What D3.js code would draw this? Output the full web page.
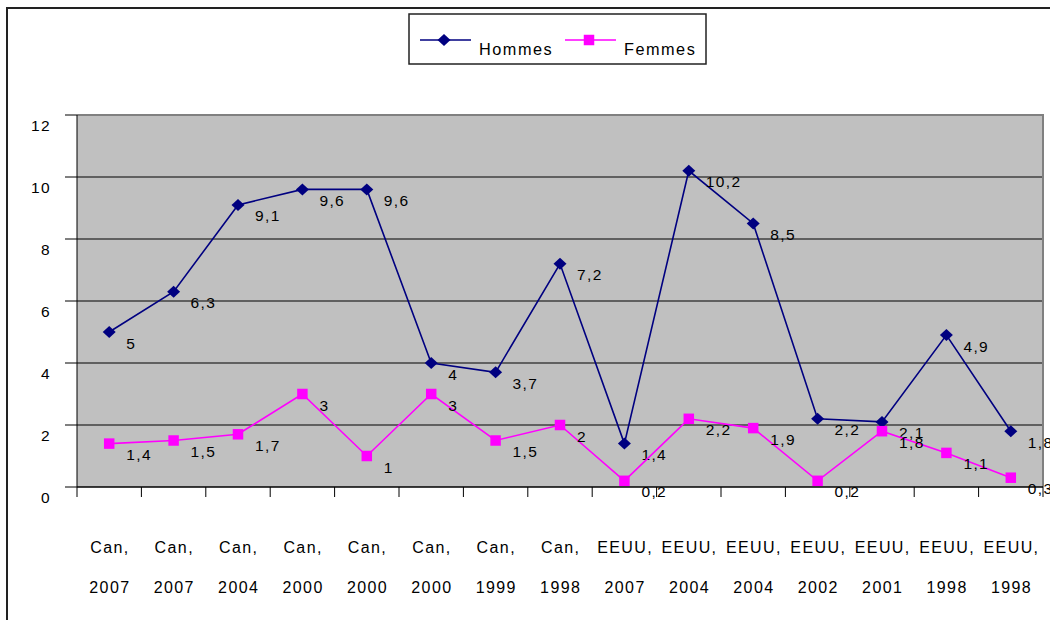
<!DOCTYPE html>
<html>
<head>
<meta charset="utf-8">
<script src="https://cdn.jsdelivr.net/npm/d3@7"></script>
<style>
  html, body { margin: 0; padding: 0; background: #fff; }
  svg { display: block; font-family: "Liberation Sans", Arial, sans-serif; }
  svg text { letter-spacing: 1.4px; }
</style>
</head>
<body>
<svg id="chart" width="1050" height="620"></svg>
<script>
// Category labels: country and year, drawn on two lines
const countries = ["Can,", "Can,", "Can,", "Can,", "Can,", "Can,", "Can,", "Can,",
                   "EEUU,", "EEUU,", "EEUU,", "EEUU,", "EEUU,", "EEUU,", "EEUU,"];
const years = ["2007", "2007", "2004", "2000", "2000", "2000", "1999", "1998",
               "2007", "2004", "2004", "2002", "2001", "1998", "1998"];
const hommes = [5, 6.3, 9.1, 9.6, 9.6, 4, 3.7, 7.2, 1.4, 10.2, 8.5, 2.2, 2.1, 4.9, 1.8];
const femmes = [1.4, 1.5, 1.7, 3, 1, 3, 1.5, 2, 0.2, 2.2, 1.9, 0.2, 1.8, 1.1, 0.3];
const yTicks = [0, 2, 4, 6, 8, 10, 12];
const seriesNames = ["Hommes", "Femmes"];

const svg = d3.select("#chart");
const W = 1050, H = 620;
const plot = { left: 77, right: 1043, top: 115, bottom: 487 };

const idx = d3.range(countries.length);
const x = d3.scaleBand().domain(idx).range([plot.left, plot.right]).padding(0);
const y = d3.scaleLinear().domain([0, 12]).range([plot.bottom, plot.top]);
const cx = i => x(i) + x.bandwidth() / 2;

// Common text styling
function place(sel, fx, fy, size, anchor) {
  return sel.attr("x", fx).attr("y", fy)
    .attr("text-anchor", anchor)
    .attr("dominant-baseline", "central")
    .attr("font-size", size)
    .attr("fill", "#000");
}

// Marker shapes: a wide diamond and a square
const diamond = (w, h) => `M0,${-h / 2}L${w / 2},0L0,${h / 2}L${-w / 2},0Z`;
const square = s => `M${-s / 2},${-s / 2}h${s}v${s}h${-s}Z`;

// Outer chart border
svg.append("rect")
  .attr("x", 7).attr("y", 8).attr("width", W + 10).attr("height", H + 10)
  .attr("fill", "none").attr("stroke", "#222").attr("stroke-width", 2);

// Plot area background
svg.append("rect")
  .attr("x", plot.left).attr("y", plot.top)
  .attr("width", plot.right - plot.left).attr("height", plot.bottom - plot.top)
  .attr("fill", "#c0c0c0");

// Horizontal gridlines
svg.append("g").selectAll("line")
  .data(yTicks.filter(t => t > 0 && t < 12))
  .join("line")
  .attr("x1", plot.left).attr("x2", plot.right)
  .attr("y1", d => y(d)).attr("y2", d => y(d))
  .attr("stroke", "#000").attr("stroke-width", 1);

// Plot area top and right border (grey)
svg.append("path")
  .attr("d", `M${plot.left},${plot.top}H${plot.right}V${plot.bottom}`)
  .attr("fill", "none").attr("stroke", "#808080").attr("stroke-width", 2);

// Y axis
const yAxis = svg.append("g");
yAxis.append("line")
  .attr("x1", plot.left).attr("x2", plot.left)
  .attr("y1", plot.top).attr("y2", plot.bottom)
  .attr("stroke", "#000").attr("stroke-width", 1);
yAxis.selectAll("line.tick").data(yTicks).join("line")
  .attr("class", "tick")
  .attr("x1", plot.left - 12).attr("x2", plot.left)
  .attr("y1", d => y(d)).attr("y2", d => y(d))
  .attr("stroke", "#000").attr("stroke-width", 1);
place(yAxis.selectAll("text").data(yTicks).join("text"),
      () => 51, d => y(d) + 10, 15.5, "end")
  .text(d => d);

// X axis
const xAxis = svg.append("g");
xAxis.append("line")
  .attr("x1", plot.left).attr("x2", plot.right)
  .attr("y1", plot.bottom).attr("y2", plot.bottom)
  .attr("stroke", "#000").attr("stroke-width", 1.5);
xAxis.selectAll("line.tick").data(d3.range(countries.length + 1)).join("line")
  .attr("class", "tick")
  .attr("x1", d => plot.left + d * x.step()).attr("x2", d => plot.left + d * x.step())
  .attr("y1", plot.bottom).attr("y2", plot.bottom + 10)
  .attr("stroke", "#000").attr("stroke-width", 1);
place(xAxis.selectAll("text.c").data(idx).join("text").attr("class", "c"),
      i => cx(i) + 0.7, () => 547, 16, "middle")
  .text(i => countries[i]);
place(xAxis.selectAll("text.yr").data(idx).join("text").attr("class", "yr"),
      i => cx(i) + 0.7, () => 587, 16, "middle")
  .text(i => years[i]);

// Series
const series = [
  { name: seriesNames[0], values: hommes, color: "#000080", shape: diamond(13, 12) },
  { name: seriesNames[1], values: femmes, color: "#ff00ff", shape: square(10.5) }
];
const fmt = v => String(v).replace(".", ",");
const line = d3.line().x((d, i) => cx(i)).y(d => y(d));

series.forEach(s => {
  const g = svg.append("g");
  g.append("path").attr("d", line(s.values))
    .attr("fill", "none").attr("stroke", s.color).attr("stroke-width", 1.6);
  g.selectAll("path.m").data(s.values).join("path")
    .attr("class", "m")
    .attr("transform", (d, i) => `translate(${cx(i)},${y(d)})`)
    .attr("d", s.shape)
    .attr("fill", s.color);
  place(g.selectAll("text").data(s.values).join("text"),
        (d, i) => cx(i) + 17, d => y(d) + 11, 15.5, "start")
    .text(d => fmt(d));
});

// Legend
const lg = svg.append("g");
lg.append("rect").attr("x", 409).attr("y", 14).attr("width", 297).attr("height", 50)
  .attr("fill", "#fff").attr("stroke", "#222").attr("stroke-width", 1.5);
const legendX = [420, 565];
series.forEach((s, k) => {
  const lx = legendX[k];
  lg.append("line").attr("x1", lx).attr("x2", lx + 51).attr("y1", 40).attr("y2", 40)
    .attr("stroke", s.color).attr("stroke-width", 1.6);
  lg.append("path")
    .attr("transform", `translate(${lx + 24},40)`)
    .attr("d", s.shape)
    .attr("fill", s.color);
  place(lg.append("text"), lx + 59, 49, 16.3, "start")
    .style("letter-spacing", "1.5px")
    .text(s.name);
});
</script>
</body>
</html>
